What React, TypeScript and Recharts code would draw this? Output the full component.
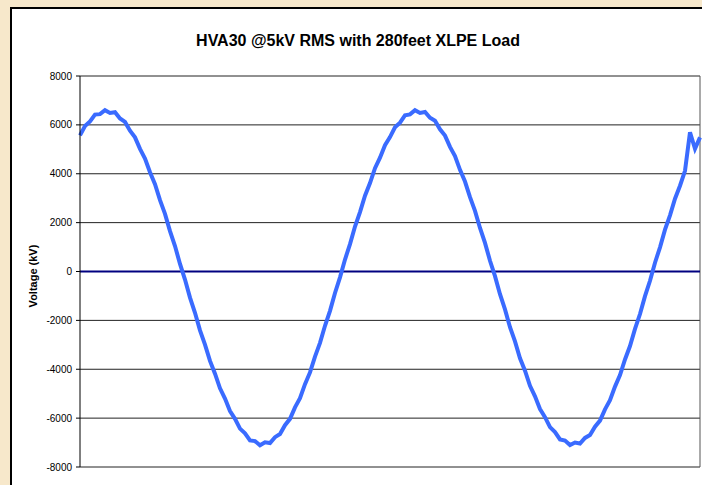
import React from 'react';
import {
    LineChart,
    Line,
    XAxis,
    YAxis,
    CartesianGrid,
    ReferenceLine,
} from 'recharts';

// Voltage samples (kV), evenly spaced across the plot
const voltage = [
    5570, 5950, 6140, 6420, 6440, 6600, 6490, 6520, 6260, 6120,
    5760, 5490, 5020, 4620, 4060, 3570, 2920, 2360, 1650, 1040,
    310, -330, -1070, -1690, -2410, -2990, -3660, -4180, -4780, -5200,
    -5710, -6030, -6430, -6620, -6910, -6940, -7110, -6990, -7020, -6780,
    -6650, -6290, -6030, -5560, -5180, -4610, -4130, -3480, -2920, -2220,
    -1610, -880, -240, 490, 1120, 1840, 2430, 3100, 3620, 4230,
    4660, 5170, 5500, 5900, 6090, 6390, 6430, 6600, 6490, 6530,
    6290, 6170, 5820, 5560, 5100, 4720, 4160, 3680, 3040, 2480,
    1780, 1170, 440, -190, -930, -1550, -2280, -2860, -3550, -4060,
    -4680, -5110, -5630, -5960, -6370, -6570, -6870, -6920, -7100, -7000,
    -7040, -6810, -6690, -6350, -6100, -5640, -5270, -4710, -4240, -3600,
    -3050, -2350, -1740, -1010, -380, 360, 990, 1710, 2300, 2980,
    3510, 4120, 5700, 5020, 5490,
];

const yTicks = [-8000, -6000, -4000, -2000, 0, 2000, 4000, 6000, 8000];

const title = 'HVA30 @5kV RMS with 280feet XLPE Load';
const yLabel = 'Voltage (kV)';

const data = voltage.map((v, i) => ({ n: i, v }));

const font = 'Arial, "Liberation Sans", sans-serif';

const App: React.FC = () => {
    return (
        <div
            style={{
                position: 'absolute',
                left: 0,
                top: 0,
                width: 702,
                height: 485,
                overflow: 'hidden',
                background: '#f7e8cb',
                fontFamily: font,
            }}
        >
            {/* white chart panel */}
            <div
                style={{
                    position: 'absolute',
                    left: 10,
                    top: 7,
                    width: 720,
                    height: 500,
                    background: '#fff',
                    borderLeft: '2px solid #000',
                    borderTop: '2px solid #000',
                }}
            />
            <div
                style={{
                    position: 'absolute',
                    left: 0,
                    width: 716,
                    top: 32,
                    textAlign: 'center',
                    fontWeight: 'bold',
                    fontSize: 16,
                    lineHeight: '18px',
                    color: '#000',
                }}
            >
                {title}
            </div>
            <div
                style={{
                    position: 'absolute',
                    left: 33,
                    top: 276,
                    transform: 'translate(-50%, -50%) rotate(-90deg)',
                    whiteSpace: 'nowrap',
                    fontWeight: 'bold',
                    fontSize: 11,
                    color: '#000',
                }}
            >
                {yLabel}
            </div>
            <div style={{ position: 'absolute', left: 0, top: 0 }}>
                <LineChart
                    width={702}
                    height={485}
                    data={data}
                    margin={{ top: 76, right: 2, bottom: 18, left: 0 }}
                >
                    <CartesianGrid horizontal vertical={false} stroke="#222" strokeOpacity={1} />
                    <XAxis dataKey="n" hide />
                    <YAxis
                        width={80}
                        domain={[-8000, 8000]}
                        ticks={yTicks}
                        interval={0}
                        tickSize={4}
                        tickMargin={4}
                        axisLine={{ stroke: '#000' }}
                        tickLine={{ stroke: '#000' }}
                        tick={{ fontSize: 10, fill: '#000', fontFamily: font }}
                    />
                    <ReferenceLine x={voltage.length - 1} stroke="#555" />
                    <ReferenceLine y={0} stroke="#000080" strokeWidth={2} />
                    <Line
                        type="linear"
                        dataKey="v"
                        stroke="#3a6bff"
                        strokeWidth={4}
                        dot={false}
                        isAnimationActive={false}
                    />
                </LineChart>
            </div>
        </div>
    );
};

export default App;
